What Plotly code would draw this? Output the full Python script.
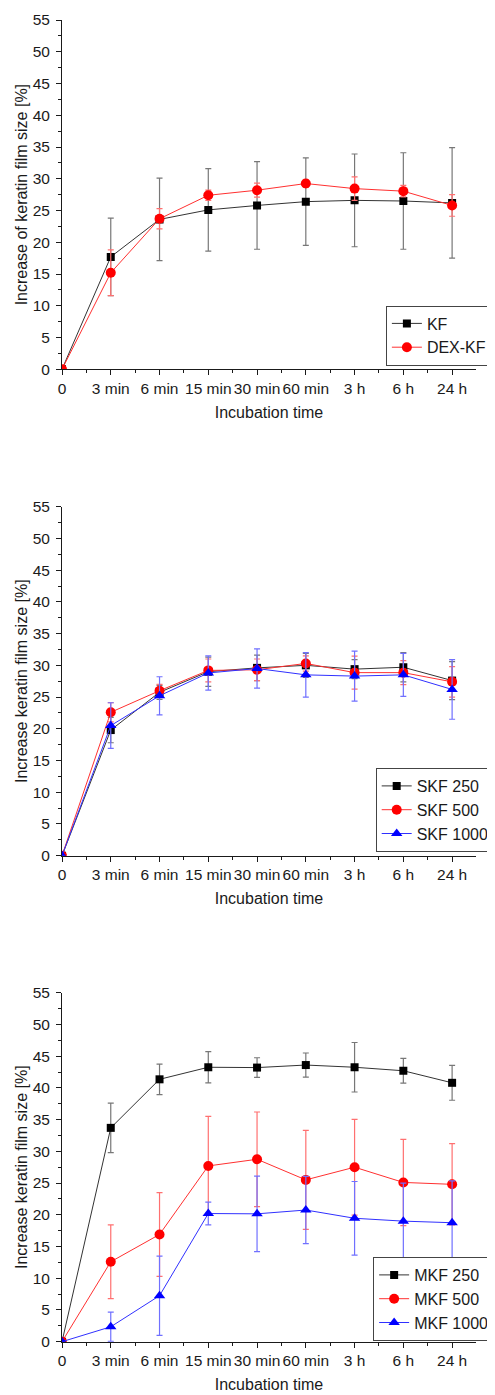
import plotly.graph_objects as go

# ---------------- data ----------------
times = ["0", "3 min", "6 min", "15 min", "30 min", "60 min", "3 h", "6 h", "24 h"]

kf = [0, 17.7, 23.6, 25.1, 25.8, 26.4, 26.6, 26.5, 26.2]
kf_sd = [0, 6.1, 6.5, 6.5, 6.9, 6.9, 7.3, 7.6, 8.7]
dex_kf = [0, 15.2, 23.7, 27.4, 28.2, 29.25, 28.45, 28.05, 25.8]
dex_kf_sd = [0, 3.6, 1.6, 0.8, 1.1, 0.6, 1.85, 0.9, 1.7]

skf250 = [0, 19.8, 25.75, 29.0, 29.6, 30.0, 29.4, 29.7, 27.6]
skf250_sd = [0, 2.0, 1.1, 2.3, 2.0, 1.9, 1.5, 2.3, 3.0]
skf500 = [0, 22.6, 26.0, 29.2, 29.3, 30.3, 28.85, 28.85, 27.4]
skf500_sd = [0, 1.5, 1.0, 1.8, 1.7, 1.2, 2.6, 1.9, 2.4]
skf1000 = [0, 20.5, 25.2, 28.8, 29.5, 28.5, 28.3, 28.5, 26.2]
skf1000_sd = [0, 3.6, 3.0, 2.7, 3.1, 3.5, 3.95, 3.4, 4.7]

mkf250 = [0, 33.7, 41.35, 43.25, 43.2, 43.6, 43.25, 42.7, 40.8]
mkf250_sd = [0, 3.9, 2.4, 2.45, 1.55, 1.9, 3.9, 1.95, 2.75]
mkf500 = [0, 12.6, 16.9, 27.7, 28.75, 25.5, 27.5, 25.1, 24.8]
mkf500_sd = [0, 5.8, 6.6, 7.8, 7.45, 7.8, 7.55, 6.8, 6.4]
mkf1000 = [0, 2.35, 7.25, 20.2, 20.15, 20.75, 19.45, 19.0, 18.75]
mkf1000_sd = [0, 2.3, 6.25, 1.8, 5.95, 5.3, 5.8, 6.0, 6.6]

y_titles = ["Increase of keratin film size [%]",
            "Increase keratin film size [%]",
            "Increase keratin film size [%]"]
x_title = "Incubation time"

# ---------------- figure ----------------
OFF = 8  # page body margin
W, H = 495 - OFF, 1395 - OFF
FONT = "Liberation Sans, Arial, sans-serif"
TXT = "#1a1a1a"
FS = 16
TFS = 15.5

xpos = list(range(len(times)))

styles = {
    "black": dict(line="#333333", marker="#000000", err="#777777", symbol="square", size=8),
    "red": dict(line="#ff3030", marker="#ff0000", err="#ff7070", symbol="circle", size=10),
    "blue": dict(line="#3030ff", marker="#0000ff", err="#7070ff", symbol="triangle-up", size=10),
}

panels = [
    [("KF", kf, kf_sd, "black"), ("DEX-KF", dex_kf, dex_kf_sd, "red")],
    [("SKF 250", skf250, skf250_sd, "black"), ("SKF 500", skf500, skf500_sd, "red"),
     ("SKF 1000", skf1000, skf1000_sd, "blue")],
    [("MKF 250", mkf250, mkf250_sd, "black"), ("MKF 500", mkf500, mkf500_sd, "red"),
     ("MKF 1000", mkf1000, mkf1000_sd, "blue")],
]

# plot-area pixel extents in the page (top, bottom) for each panel
extents = [(20.0, 369.3), (506.7, 855.7), (992.7, 1341.7)]
# legend box: left edge x, vertical centre y
legend_pos = [(389, 335.5), (377, 810), (374, 1299)]

fig = go.Figure()
layout = dict(
    width=W, height=H,
    margin=dict(l=62 - OFF, r=0, t=0, b=0),
    paper_bgcolor="white", plot_bgcolor="white",
    font=dict(family=FONT, size=FS, color=TXT),
    showlegend=True,
)

for i, series in enumerate(panels):
    n = "" if i == 0 else str(i + 1)
    leg = "legend" if i == 0 else f"legend{i + 1}"
    for name, vals, sd, col in series:
        st = styles[col]
        fig.add_trace(go.Scatter(
            x=xpos, y=vals, name=name, mode="lines+markers",
            xaxis="x" + n, yaxis="y" + n, legend=leg,
            line=dict(color=st["line"], width=1),
            marker=dict(color=st["marker"], symbol=st["symbol"], size=st["size"]),
            error_y=dict(type="data", array=sd, visible=True, color=st["err"],
                         thickness=1.2, width=3),
        ))
    top, bot = extents[i]
    top -= OFF
    bot -= OFF
    dom = [1 - bot / H, 1 - top / H]
    axis_common = dict(
        showline=True, linecolor=TXT, linewidth=1, showgrid=False, zeroline=False,
        ticks="outside", ticklen=5, tickcolor=TXT, tickwidth=1,
        tickfont=dict(family=FONT, size=TFS, color=TXT),
    )
    layout["xaxis" + n] = dict(
        axis_common, domain=[0, 1], anchor="y" + n, range=[0, 8.49],
        tickmode="array", tickvals=xpos, ticktext=times, tickangle=0,
        minor=dict(ticks="outside", ticklen=3, tickcolor=TXT, dtick=0.5, tick0=0),
        title=dict(text=x_title, font=dict(family=FONT, size=FS, color=TXT), standoff=10),
        automargin=False,
    )
    layout["yaxis" + n] = dict(
        axis_common, domain=dom, anchor="x" + n, range=[0, 55],
        tickmode="linear", tick0=0, dtick=5, ticklabelstandoff=3,
        minor=dict(ticks="outside", ticklen=3, tickcolor=TXT, dtick=2.5, tick0=0),
        title=dict(text=y_titles[i], font=dict(family=FONT, size=FS, color=TXT), standoff=1),
        automargin=False,
    )
    lx, ly = legend_pos[i]
    layout[leg] = dict(
        x=(lx - OFF) / W, y=1 - (ly - OFF) / H, xanchor="left", yanchor="middle",
        xref="paper", yref="paper",
        bgcolor="white", bordercolor="#444444", borderwidth=1,
        font=dict(family=FONT, size=FS, color=TXT),
        tracegroupgap=0, itemsizing="trace",
    )

fig.update_layout(**layout)
fig.write_html("out.html")
